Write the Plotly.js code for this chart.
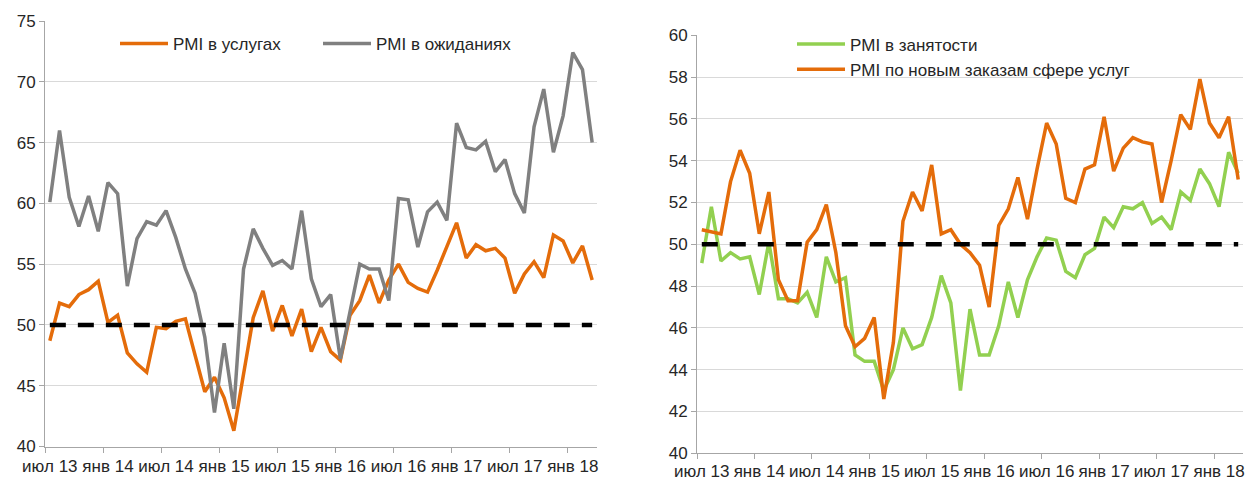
<!DOCTYPE html>
<html>
<head>
<meta charset="utf-8">
<script src="https://cdn.plot.ly/plotly-3.0.1.min.js"></script>
<style>
html,body{margin:0;padding:0;background:#fff;}
#chart{width:1247px;height:481px;}
</style>
</head>
<body>
<div id="chart"></div>
<script>
// Monthly data, Jul 2013 – Mar 2018 (57 months)
const tickLabels = ['июл 13','янв 14','июл 14','янв 15','июл 15','янв 16','июл 16','янв 17','июл 17','янв 18'];

const pmiServices = [48.7,51.8,51.5,52.5,52.9,53.6,50.2,50.8,47.7,46.8,46.1,49.8,49.7,50.3,50.5,47.6,44.5,45.7,44.0,41.3,
  46.0,50.6,52.8,49.5,51.6,49.1,51.3,47.8,49.8,47.8,47.1,50.8,52.0,54.1,51.8,53.7,55.0,53.5,53.0,52.7,
  54.5,56.4,58.4,55.5,56.6,56.1,56.3,55.5,52.6,54.2,55.2,53.9,57.4,56.9,55.1,56.5,53.7];

const pmiExpectations = [60.1,66.0,60.5,58.1,60.6,57.7,61.7,60.8,53.2,57.1,58.5,58.2,59.4,57.2,54.6,52.6,49.0,42.8,48.5,43.1,
  54.6,57.9,56.3,54.9,55.3,54.6,59.4,53.8,51.5,52.5,47.2,51.0,55.0,54.6,54.6,52.0,60.4,60.3,56.4,59.3,
  60.1,58.6,66.6,64.6,64.4,65.1,62.6,63.6,60.8,59.2,66.3,69.4,64.2,67.2,72.4,71.0,65.0];

const pmiEmployment = [49.1,51.8,49.2,49.6,49.3,49.4,47.6,50.1,47.4,47.4,47.2,47.7,46.5,49.4,48.2,48.4,44.7,44.4,44.4,43.0,
  44.0,46.0,45.0,45.2,46.5,48.5,47.2,43.0,46.9,44.7,44.7,46.1,48.2,46.5,48.3,49.4,50.3,50.2,48.7,48.4,
  49.5,49.8,51.3,50.8,51.8,51.7,52.0,51.0,51.3,50.7,52.5,52.1,53.6,52.9,51.8,54.4,53.4];

const pmiNewOrders = [50.7,50.6,50.5,53.0,54.5,53.4,50.5,52.5,48.3,47.3,47.3,50.1,50.7,51.9,49.6,46.1,45.1,45.5,46.5,42.6,
  45.3,51.1,52.5,51.6,53.8,50.5,50.7,50.0,49.6,49.0,47.0,50.9,51.7,53.2,51.2,53.6,55.8,54.8,52.2,52.0,
  53.6,53.8,56.1,53.5,54.6,55.1,54.9,54.8,52.0,54.0,56.2,55.5,57.9,55.8,55.1,56.1,53.1];

const threshold = 50;

const idx = pmiServices.map((_, i) => i);
const tickPos = tickLabels.map((_, k) => k * 6);
const boundaryPos = tickLabels.map((_, k) => k * 6 - 0.5);
const thresholdLine = idx.map(() => threshold);

const ORANGE = '#E46C0A', GRAY = '#808080', GREEN = '#92D050';
const FONT = 'Liberation Sans, Arial, sans-serif';
const TXT = '#262626';
const AXC = '#A6A6A6';

const traces = [
  {x: idx, y: pmiServices, name: 'PMI в услугах', type: 'scatter', mode: 'lines',
   line: {color: ORANGE, width: 3.5}, xaxis: 'x', yaxis: 'y', legend: 'legend'},
  {x: idx, y: pmiExpectations, name: 'PMI в ожиданиях', type: 'scatter', mode: 'lines',
   line: {color: GRAY, width: 3.5}, xaxis: 'x', yaxis: 'y', legend: 'legend'},
  {x: idx, y: thresholdLine, name: '50', type: 'scatter', mode: 'lines', showlegend: false,
   line: {color: '#000', width: 4.5, dash: '16px,12px'}, xaxis: 'x', yaxis: 'y', hoverinfo: 'skip'},
  {x: idx, y: pmiEmployment, name: 'PMI в занятости', type: 'scatter', mode: 'lines',
   line: {color: GREEN, width: 3.5}, xaxis: 'x2', yaxis: 'y2', legend: 'legend2'},
  {x: idx, y: pmiNewOrders, name: 'PMI по новым заказам сфере услуг', type: 'scatter', mode: 'lines',
   line: {color: ORANGE, width: 3.5}, xaxis: 'x2', yaxis: 'y2', legend: 'legend2'},
  {x: idx, y: thresholdLine, name: '50', type: 'scatter', mode: 'lines', showlegend: false,
   line: {color: '#000', width: 4.5, dash: '16px,12px'}, xaxis: 'x2', yaxis: 'y2', hoverinfo: 'skip'}
];

function xAxis(domain, anchor, standoff) {
  return {
    domain: domain, anchor: anchor, range: [-0.5, idx.length - 0.5],
    showline: true, linecolor: AXC, linewidth: 1, showgrid: false, zeroline: false,
    tickmode: 'array', tickvals: tickPos, ticktext: tickLabels, ticks: '',
    tickfont: {family: FONT, size: 17, color: TXT}, ticklabelstandoff: standoff,
    minor: {tickmode: 'array', tickvals: boundaryPos, ticks: 'outside', ticklen: 5,
            tickcolor: AXC, tickwidth: 1, showgrid: false}
  };
}
function yAxis(domain, anchor, range, dtick) {
  return {
    domain: domain, anchor: anchor, range: range, dtick: dtick, tick0: range[0],
    showline: true, linecolor: AXC, linewidth: 1, showgrid: true, gridcolor: '#D9D9D9', gridwidth: 1,
    zeroline: false, ticks: 'outside', ticklen: 5, tickcolor: AXC,
    tickfont: {family: FONT, size: 17, color: TXT}
  };
}

const layout = {
  width: 1247, height: 481,
  margin: {l: 0, r: 0, t: 0, b: 0},
  paper_bgcolor: '#fff', plot_bgcolor: '#fff',
  font: {family: FONT, color: TXT},
  xaxis: xAxis([45/1247, 597/1247], 'y', 4),
  yaxis: yAxis([(481-446.5)/481, (481-21)/481], 'x', [40, 75], 5),
  xaxis2: xAxis([697/1247, 1243/1247], 'y2', 2),
  yaxis2: yAxis([(481-453.3)/481, (481-35.3)/481], 'x2', [40, 60], 2),
  legend: {orientation: 'h', x: 115/1247, xanchor: 'left', y: (481-44)/481, yanchor: 'middle',
           bgcolor: 'rgba(0,0,0,0)', font: {family: FONT, size: 17, color: TXT},
           itemwidth: 48, tracegroupgap: 0, entrywidth: 140},
  legend2: {orientation: 'v', x: 792/1247, xanchor: 'left', y: (481-57)/481, yanchor: 'middle',
            bgcolor: 'rgba(0,0,0,0)', font: {family: FONT, size: 17, color: TXT},
            itemwidth: 48, tracegroupgap: 0},
  showlegend: true
};

Plotly.newPlot('chart', traces, layout, {staticPlot: true, displayModeBar: false});
</script>
</body>
</html>
